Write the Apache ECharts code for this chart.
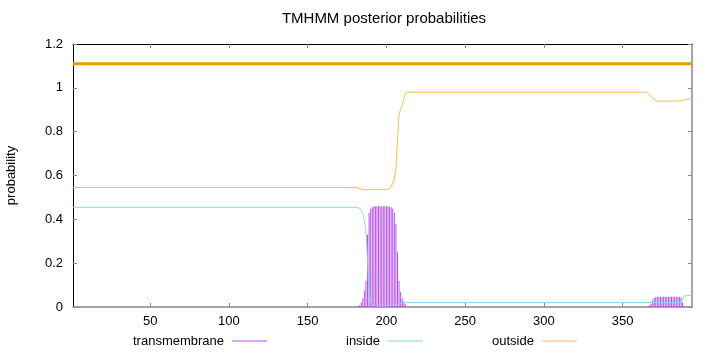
<!DOCTYPE html>
<html>
<head>
<meta charset="utf-8">
<script src="https://cdn.jsdelivr.net/npm/echarts@6/dist/echarts.min.js"></script>
<style>html,body{margin:0;padding:0;background:#fff}#c{width:720px;height:352px}</style>
</head>
<body>
<div id="c"></div>
<script>
// ---- data ----
const residueRange = [1, 394];
const xTickValues = [50, 100, 150, 200, 250, 300, 350];
const yRange = [0, 1.2];

// transmembrane posterior (impulses per residue, non-zero part only)
const transmembrane = [
  [182,0.003],[183,0.008],[184,0.02],[185,0.04],[186,0.075],[187,0.12],[188,0.33],[189,0.43],[190,0.45],
  [191,0.455],[192,0.458],[193,0.46],[194,0.46],[195,0.46],[196,0.46],[197,0.46],[198,0.46],[199,0.46],
  [200,0.46],[201,0.46],[202,0.458],[203,0.455],[204,0.45],[205,0.43],[206,0.38],[207,0.25],[208,0.12],
  [209,0.07],[210,0.04],[211,0.025],[212,0.012],
  [366,0.004],[367,0.008],[368,0.015],[369,0.03],[370,0.042],[371,0.046],[372,0.047],[373,0.047],[374,0.047],
  [375,0.047],[376,0.047],[377,0.047],[378,0.047],[379,0.047],[380,0.047],[381,0.047],[382,0.047],[383,0.047],
  [384,0.047],[385,0.047],[386,0.046],[387,0.044],[388,0.02],[389,0.005]
];

// inside posterior
const inside = [
  [1,0.455],[181,0.455],[183,0.45],[184,0.44],[185,0.425],[186,0.395],[187,0.35],[188,0.21],[189,0.055],
  [190,0.02],[191,0.008],[194,0.005],[200,0.005],[204,0.008],[208,0.014],[211,0.019],[213,0.02],
  [387,0.02],[388,0.035],[389,0.05],[390,0.055],[394,0.055]
];

// outside posterior
const outside = [
  [1,0.545],[180,0.545],[182,0.543],[184,0.538],[186,0.535],[200,0.535],[202,0.54],[203,0.55],[204,0.565],
  [205,0.585],[206,0.625],[207,0.76],[208,0.88],[209,0.9],[210,0.92],[211,0.95],[212,0.97],[213,0.98],
  [365,0.98],[367,0.97],[369,0.955],[371,0.94],[386,0.94],[388,0.942],[390,0.948],[394,0.948]
];

// predicted topology bar at the top (whole sequence outside)
const topologyLevel = 1.11;
const topologyOutside = [[1, 394]];

// ---- chart ----
const FONT = "'Liberation Sans', Arial, sans-serif";
const colTM = '#b650e8', colIn = '#8fcdef', colOut = '#f3bd4c', colTop = '#e69f00';

const topoData = [];
topologyOutside.forEach(function (seg) {
  topoData.push([seg[0], topologyLevel], [seg[1], topologyLevel], null);
});

const chart = echarts.init(document.getElementById('c'), null, {renderer: 'canvas'});
const legendBase = {
  orient: 'horizontal', top: 333, padding: 0, align: 'right',
  itemWidth: 35, itemHeight: 1, icon: 'rect',
  textStyle: {fontFamily: FONT, fontSize: 13, color: '#000', lineHeight: 16, padding: [0, 3, 0, 0]}
};
chart.setOption({
  animation: false,
  backgroundColor: '#fff',
  title: {
    text: 'TMHMM posterior probabilities', left: 384, top: 11, padding: 0,
    textAlign: 'center',
    textStyle: {fontFamily: FONT, fontSize: 15, fontWeight: 'normal', color: '#000'}
  },
  legend: [
    Object.assign({}, legendBase, {left: 133, data: ['transmembrane']}),
    Object.assign({}, legendBase, {left: 346, data: ['inside']}),
    Object.assign({}, legendBase, {left: 492, data: ['outside']})
  ],
  grid: {left: 73, right: 28, top: 44, bottom: 45, containLabel: false, outerBoundsMode: 'none'},
  xAxis: [
    {
      type: 'value', position: 'bottom', min: residueRange[0], max: residueRange[1],
      axisLine: {show: true, onZero: false, lineStyle: {color: '#888', width: 1.5}},
      axisTick: {show: true, inside: true, length: 4, customValues: xTickValues, lineStyle: {color: '#888'}},
      axisLabel: {customValues: xTickValues, margin: 8, fontFamily: FONT, fontSize: 13, color: '#000'},
      splitLine: {show: false}
    },
    {
      type: 'value', position: 'top', min: residueRange[0], max: residueRange[1],
      axisLine: {show: true, onZero: false, lineStyle: {color: '#000', width: 1}},
      axisTick: {show: true, inside: true, length: 4, customValues: xTickValues, lineStyle: {color: '#888'}},
      axisLabel: {show: false},
      splitLine: {show: false}
    }
  ],
  yAxis: [
    {
      type: 'value', position: 'left', min: yRange[0], max: yRange[1], interval: 0.2,
      name: 'probability', nameLocation: 'middle', nameRotate: 90, nameGap: 55,
      nameTextStyle: {fontFamily: FONT, fontSize: 13, color: '#000'},
      axisLine: {show: true, lineStyle: {color: '#000', width: 1}},
      axisTick: {show: true, inside: true, length: 4, lineStyle: {color: '#888'}},
      axisLabel: {margin: 10, fontFamily: FONT, fontSize: 13, color: '#000'},
      splitLine: {show: false}
    },
    {
      type: 'value', position: 'right', min: yRange[0], max: yRange[1], interval: 0.2,
      axisLine: {show: true, lineStyle: {color: '#888', width: 1.5}},
      axisTick: {show: true, inside: true, length: 4, lineStyle: {color: '#888'}},
      axisLabel: {show: false},
      splitLine: {show: false}
    }
  ],
  series: [
    {
      name: 'transmembrane', type: 'bar', xAxisIndex: 0, yAxisIndex: 0,
      data: transmembrane, barWidth: 1, itemStyle: {color: colTM}, z: 2
    },
    {
      name: 'inside', type: 'line', data: inside, showSymbol: false, symbol: 'none',
      lineStyle: {color: colIn, width: 1}, itemStyle: {color: colIn}, z: 3
    },
    {
      name: 'outside', type: 'line', data: outside, showSymbol: false, symbol: 'none',
      lineStyle: {color: colOut, width: 1}, itemStyle: {color: colOut}, z: 3
    },
    {
      name: 'topology', type: 'line', data: topoData, showSymbol: false, symbol: 'none',
      connectNulls: false, lineStyle: {color: colTop, width: 3}, z: 4, silent: true
    }
  ]
});
</script>
</body>
</html>
